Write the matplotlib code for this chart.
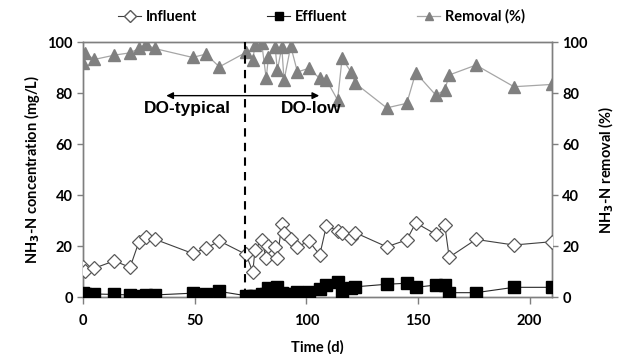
import matplotlib
matplotlib.use("Agg")
import matplotlib.pyplot as plt
from matplotlib.lines import Line2D

# time (d)
days = [0, 1, 5, 14, 21, 25, 28, 32, 49, 55, 61, 73, 76, 77, 80, 82, 83, 86, 87,
        89, 90, 93, 96, 101, 106, 109, 114, 116, 120, 122, 136, 145, 149, 158,
        162, 164, 176, 193, 210]

# NH3-N concentration (mg/L)
influent = [11.9, 10.2, 11.3, 14.2, 11.6, 21.7, 23.6, 22.7, 17.1, 19.1, 22.0,
            16.7, 9.8, 18.6, 22.4, 15.2, 20.0, 19.5, 15.2, 28.6, 25.0, 22.6,
            19.5, 22.1, 16.5, 28.0, 26.0, 25.0, 23.1, 25.2, 19.7, 22.4, 29.1,
            24.6, 28.2, 15.6, 22.6, 20.4, 21.7]
effluent = [1.5, 1.0, 1.2, 1.0, 0.8, 0.5, 0.7, 0.8, 1.5, 1.2, 2.2, 0.5, 0.3,
            0.5, 1.0, 1.0, 3.4, 2.5, 4.0, 1.5, 1.0, 1.0, 2.0, 2.0, 3.0, 4.7,
            6.0, 1.7, 3.4, 4.0, 5.0, 5.4, 3.8, 4.7, 4.7, 1.7, 1.7, 3.8, 3.8]

# NH3-N removal (%)
removal = [92.0, 95.6, 93.2, 94.9, 95.8, 97.5, 99.2, 97.5, 94.0, 95.3, 90.3,
           96.0, 93.0, 99.0, 99.5, 85.8, 94.0, 98.0, 89.0, 98.0, 85.0, 98.4,
           88.3, 89.7, 85.8, 85.1, 77.3, 93.6, 88.3, 83.8, 74.2, 76.0, 88.0,
           79.2, 81.2, 87.1, 91.0, 82.5, 83.4]

x_ticks = [0, 50, 100, 150, 200]
y_ticks = [0, 20, 40, 60, 80, 100]
switch_day = 72.5

plt.rcParams['font.family'] = ['Lato', 'DejaVu Sans']
plt.rcParams['font.weight'] = 'bold'
plt.rcParams['mathtext.default'] = 'bf'

grey = '#7f7f7f'

fig = plt.figure(figsize=(6.3, 3.54), dpi=100)
ax = fig.add_axes([0.132, 0.161, 0.744, 0.72])
ax2 = ax.twinx()

# removal behind the concentrations
ax2.plot(days, removal, color='#a6a6a6', lw=0.9, marker='^', ms=8,
         mfc='#808080', mec='#808080', zorder=2)
ax.plot(days, influent, color='#404040', lw=0.8, marker='D', ms=7,
        mfc='white', mec='#595959', mew=0.9, zorder=3)
ax.plot(days, effluent, color='#262626', lw=0.8, marker='s', ms=8.5,
        mfc='black', mec='black', zorder=4)

ax.set_zorder(ax2.get_zorder() + 1)
ax.patch.set_visible(False)

for a in (ax, ax2):
    a.set_xlim(0, 210)
    a.set_ylim(0, 100)
    a.set_yticks(y_ticks)
    for s in a.spines.values():
        s.set_color(grey)
        s.set_linewidth(1.0)
    a.tick_params(colors=grey, labelcolor='black', labelsize=10.5,
                  length=4, width=1, direction='out')
ax.set_xticks(x_ticks)
ax.tick_params(axis='x', length=5, pad=7)

ax.axvline(switch_day, color='black', ls=(0, (4, 3)), lw=1.5, zorder=5)

ax.annotate('', xy=(36, 79), xytext=(107, 79),
            arrowprops=dict(arrowstyle='<|-|>', color='black', lw=1.0,
                            mutation_scale=10))
ax.text(46.5, 74, 'DO-typical', ha='center', va='center', fontsize=12.5,
        fontweight='bold', family='Liberation Sans')
ax.text(102, 74, 'DO-low', ha='center', va='center', fontsize=12.5,
        fontweight='bold', family='Liberation Sans')

ax.set_xlabel('Time (d)', fontsize=10.5, fontweight='bold', labelpad=9)
ax.set_ylabel('NH$_3$-N concentration (mg/L)', fontsize=10.5,
              fontweight='bold', labelpad=4)
ax2.set_ylabel('NH$_3$-N removal (%)', fontsize=10.5, fontweight='bold',
               labelpad=6)

handles = [
    Line2D([], [], color='#404040', lw=0.8, marker='D', ms=6, mfc='white',
           mec='#595959'),
    Line2D([], [], color='#262626', lw=0.8, marker='s', ms=6, mfc='black',
           mec='black'),
    Line2D([], [], color='#a6a6a6', lw=0.9, marker='^', ms=6, mfc='#808080',
           mec='#808080'),
]
fig.legend(handles, ['Influent', 'Effluent', 'Removal (%)'], loc='upper center',
           bbox_to_anchor=(0.51, 1.01), ncol=3, frameon=False, fontsize=10.5,
           handlelength=1.6, handletextpad=0.3, columnspacing=4.8)

fig.savefig('out.png', dpi=100)
